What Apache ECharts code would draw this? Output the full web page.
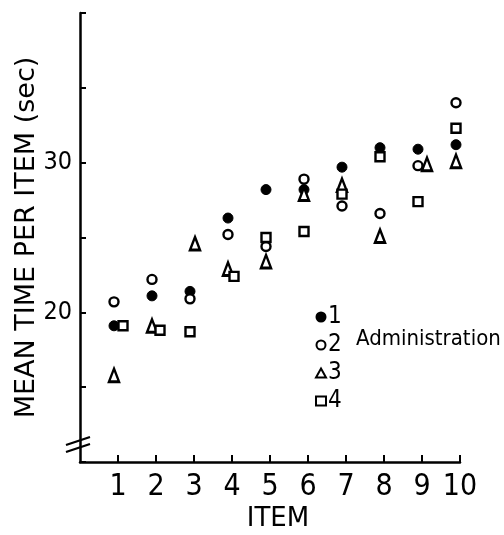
<!DOCTYPE html>
<html><head><meta charset="utf-8">
<script src="https://cdn.jsdelivr.net/npm/echarts@6/dist/echarts.min.js"></script>
<style>html,body{margin:0;padding:0;background:#fff}#c{width:504px;height:535px}</style>
</head><body><div id="c"></div>
<script>
// ---- data ----
const items = [1, 2, 3, 4, 5, 6, 7, 8, 9, 10];
const admin1 = [19.1, 21.1, 21.4, 26.3, 28.2, 28.2, 29.7, 31.0, 30.9, 31.2];
const admin2 = [20.7, 22.2, 20.9, 25.2, 24.4, 28.9, 27.1, 26.6, 29.8, 34.0];
const admin3 = [15.8, 19.1, 24.6, 22.9, 23.4, 27.9, 28.5, 25.1, 29.9, 30.1];
const admin4 = [19.1, 18.8, 18.7, 22.4, 25.0, 25.4, 27.9, 30.4, 27.4, 32.3];
const seriesNames = ['1', '2', '3', '4'];
const yTickLabels = [20, 30];
const xTickLabels = [1, 2, 3, 4, 5, 6, 7, 8, 9, 10];

// ---- styling ----
const narrow = "'Liberation Sans Narrow','DejaVu Sans Condensed',sans-serif";
const wide = "'DejaVu Sans',sans-serif";
// horizontal jitter (px) for overlapping markers, keyed by item
const nudge = { 2: { 3: 5, 9: 9 }, 3: { 1: 9, 2: 8, 4: 6 } };
const styles = [
  { symbol: 'circle', symbolSize: 10, itemStyle: { color: '#000', borderColor: '#000', borderWidth: 1, opacity: 1 } },
  { symbol: 'circle', symbolSize: 9, itemStyle: { color: '#fff', borderColor: '#000', borderWidth: 2.4, opacity: 1 } },
  { symbol: 'triangle', symbolSize: [10, 13], itemStyle: { color: '#fff', borderColor: '#000', borderWidth: 2.6, opacity: 1 } },
  { symbol: 'rect', symbolSize: 9, itemStyle: { color: '#fff', borderColor: '#000', borderWidth: 2.4, opacity: 1 } }
];
const allValues = [admin1, admin2, admin3, admin4];

const series = allValues.map((vals, si) => ({
  type: 'scatter',
  name: seriesNames[si],
  symbol: styles[si].symbol,
  symbolSize: styles[si].symbolSize,
  itemStyle: styles[si].itemStyle,
  z: 3 + si,
  data: items.map((it, i) => ({
    value: [it, vals[i]],
    symbolOffset: [-4 + ((nudge[si] && nudge[si][it]) || 0), 0]
  }))
}));

const chart = echarts.init(document.getElementById('c'), null, { renderer: 'canvas' });
chart.setOption({
  animation: false,
  backgroundColor: '#fff',
  grid: { left: 80, right: 44, top: 13, bottom: 73, containLabel: false, outerBoundsMode: 'none' },
  xAxis: {
    type: 'value', min: 0, max: 10, interval: 1,
    name: 'ITEM', nameLocation: 'middle', nameGap: 44, nameMoveOverlap: false,
    nameTextStyle: { fontFamily: wide, fontSize: 26, color: '#000', padding: [0, 0, 0, 16] },
    axisLine: { show: true, onZero: false, lineStyle: { color: '#000', width: 2.5 } },
    axisTick: { show: true, inside: true, length: 7, lineStyle: { color: '#000', width: 2 },
      customValues: xTickLabels },
    axisLabel: { margin: 10, fontFamily: narrow, fontSize: 30, color: '#000',
      customValues: xTickLabels },
    splitLine: { show: false }
  },
  yAxis: {
    type: 'value', min: 10, max: 40, interval: 5,
    name: 'MEAN TIME PER ITEM (sec)', nameLocation: 'middle', nameGap: 40, nameRotate: 90,
    nameMoveOverlap: false,
    nameTextStyle: { fontFamily: wide, fontSize: 27, color: '#000' },
    axisLine: { show: true, onZero: false, lineStyle: { color: '#000', width: 2.5 } },
    axisTick: { show: true, inside: true, length: 6, lineStyle: { color: '#000', width: 2 } },
    axisLabel: { margin: 8, fontFamily: narrow, fontSize: 25, color: '#000',
      formatter: v => (yTickLabels.indexOf(v) >= 0 ? String(v) : '') },
    splitLine: { show: false }
  },
  legend: {
    orient: 'vertical', left: 310, top: 300, itemGap: 4,
    itemWidth: 10, itemHeight: 9,
    textStyle: { fontFamily: narrow, fontSize: 24, color: '#000', padding: [0, 0, 0, -3] },
    data: seriesNames
  },
  series: series
});

// decorations: axis break marks and the "Administration" legend caption
const brk = chart.convertToPixel({ xAxisIndex: 0, yAxisIndex: 0 }, [0, 11.4]);
chart.setOption({
  graphic: [
    { type: 'line', shape: { x1: brk[0] - 14, y1: brk[1] + 4, x2: brk[0] + 10, y2: brk[1] - 4 },
      style: { stroke: '#000', lineWidth: 2.2 } },
    { type: 'line', shape: { x1: brk[0] - 14, y1: brk[1] + 11, x2: brk[0] + 10, y2: brk[1] + 3 },
      style: { stroke: '#000', lineWidth: 2.2 } },
    { type: 'text', left: 356, top: 328,
      style: { text: 'Administration', fontFamily: narrow, fontSize: 22, fill: '#000' } }
  ]
});
</script></body></html>
